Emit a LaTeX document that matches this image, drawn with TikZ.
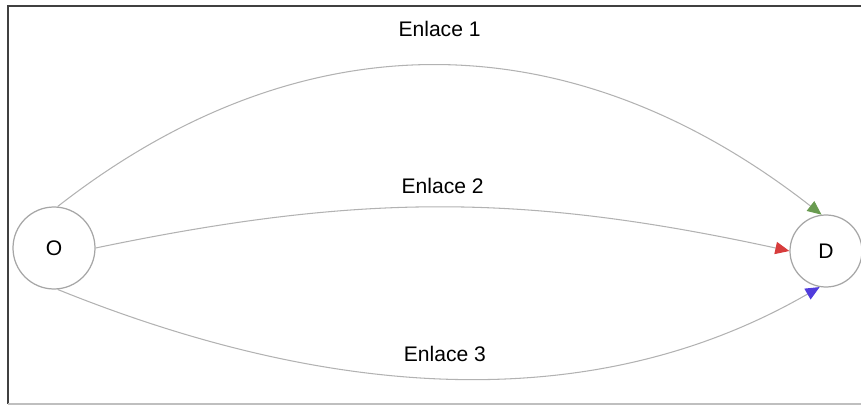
\documentclass[tikz,border=0pt]{standalone}
\usepackage{fontspec}
\setmainfont{Liberation Sans}
\usepackage{tikz}
\usetikzlibrary{arrows.meta}
\usetikzlibrary{positioning}

\definecolor{linkgreen}{RGB}{105,155,80}
\definecolor{linkred}{RGB}{215,60,60}
\definecolor{linkblue}{RGB}{80,60,220}

\begin{document}
\begin{tikzpicture}

    \useasboundingbox (0,0) rectangle (17.22,8.16);

    % frame
    \draw[line width=1.4pt,black!75] (17.22,8.04) -- (0.16,8.04) -- (0.16,0.08);
    \draw[line width=1pt,black!25] (0.16,0.08) -- (17.22,0.08);

    \tikzset{endpoint/.style={circle,draw=gray!70,line width=0.7pt,font=\fontsize{12}{14}\selectfont}}

    % origin and destination
    \node[endpoint,minimum size=1.64cm] (O) at (1.08,3.20) {O};
    \node[endpoint,minimum size=1.44cm] (D) at (16.52,3.14) {D};

    % links
    \tikzset{link/.style={draw=gray!60,line width=0.6pt},
             label/.style={font=\fontsize{12}{14}\selectfont}}
    \draw[link,-{Triangle[length=8pt,width=7pt,color=linkgreen]}] (O.85) to[out=38,in=142,looseness=1.05]
        node[label,above=0.45cm] (L1) {Enlace 1} (D.97);
    \draw[link,-{Triangle[length=8pt,width=7pt,color=linkred]}] (O.east) to[bend left=12]
        node[label,above=0.15cm] (L2) {Enlace 2} (D.west);
    \draw[link,-{Triangle[length=8pt,width=7pt,color=linkblue]}] (O.-85) to[out=-22,in=-150,looseness=0.92]
        node[label,above=0.2cm] (L3) {Enlace 3} (D.-100);

\end{tikzpicture}
\end{document}
